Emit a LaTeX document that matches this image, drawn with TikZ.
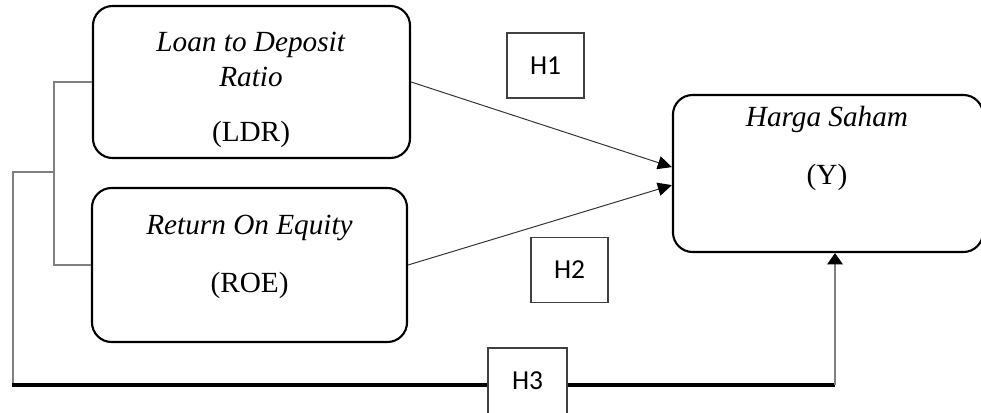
\documentclass[tikz,border=0pt]{standalone}
\usepackage{fontspec}
\setmainfont{Liberation Serif}
\newfontfamily\hfont{Carlito}
\usetikzlibrary{arrows.meta}
\tikzstyle{var}=[rectangle, rounded corners=14pt, draw=black, line width=1.5pt, fill=white, inner sep=0pt]
\tikzstyle{vtext}=[anchor=base, inner sep=0pt, font=\fontsize{20.8}{25}\selectfont]
\tikzstyle{hyp}=[rectangle, draw=black!75, line width=0.9pt, fill=white, inner sep=0pt, minimum width=1.925cm, minimum height=1.625cm, font=\hfont\fontsize{19.5}{23}\selectfont]
\tikzstyle{edge}=[-{Triangle[length=10pt,width=9.5pt,black]}, line width=0.7pt, draw=black!80]
\tikzstyle{link}=[-, line width=1pt, draw=black!50]
\tikzstyle{bar}=[-, line width=2.2pt, draw=black]
\tikzstyle{upedge}=[-{Triangle[length=8pt,width=11pt,black]}, line width=1pt, draw=black!50]

\begin{document}
\begin{tikzpicture}[x=0.025cm, y=-0.025cm]
				\useasboundingbox (0,0) rectangle (981,413);

				%The independent variables
				\draw (251.5,82) node[var, minimum width=7.925cm, minimum height=3.8cm] (ldr) {};
				\draw (251,52) node[vtext] (ldr-a) {\textit{Loan to Deposit}};
				\draw (251,87) node[vtext] (ldr-b) {\textit{Ratio}};
				\draw (251,142) node[vtext] (ldr-c) {(LDR)};

				\draw (249.5,265) node[var, minimum width=7.875cm, minimum height=3.85cm] (roe) {};
				\draw (249.5,235) node[vtext] (roe-a) {\textit{Return On Equity}};
				\draw (249.5,292) node[vtext] (roe-b) {(ROE)};

				%The dependent variable
				\draw (828,173.5) node[var, minimum width=7.75cm, minimum height=3.925cm] (hy) {};
				\draw (827,127) node[vtext] (hy-a) {\textit{Harga Saham}};
				\draw (827,185) node[vtext] (hy-b) {(Y)};

				%The partial paths
				\draw[edge] (ldr.east) -- ([yshift=0.16cm]hy.west);
				\draw[edge] (roe.east) -- ([yshift=-0.29cm]hy.west);

				\draw (545.5,65.5) node[hyp] (h1) {H1};
				\draw (569.5,270) node[hyp] (h2) {H2};

				%The joint path
				\coordinate (join) at (54,172);
				\coordinate (lowleft) at (13,385);
				\coordinate (corner) at (835,385);
				\draw[link] (ldr.west) -| (join) |- (roe.west);
				\draw[link] (join) -- (join -| lowleft) -- (lowleft);

				\draw (527.5,381) node[hyp, minimum width=1.975cm, minimum height=1.65cm] (h3) {H3};

				\draw[bar] ([xshift=-0.4pt]lowleft) -- (lowleft -| h3.west);
				\draw[bar] (h3.east |- corner) -- (corner);
				\draw[upedge] (corner) -- (corner |- hy.south);
			\end{tikzpicture}
\end{document}
